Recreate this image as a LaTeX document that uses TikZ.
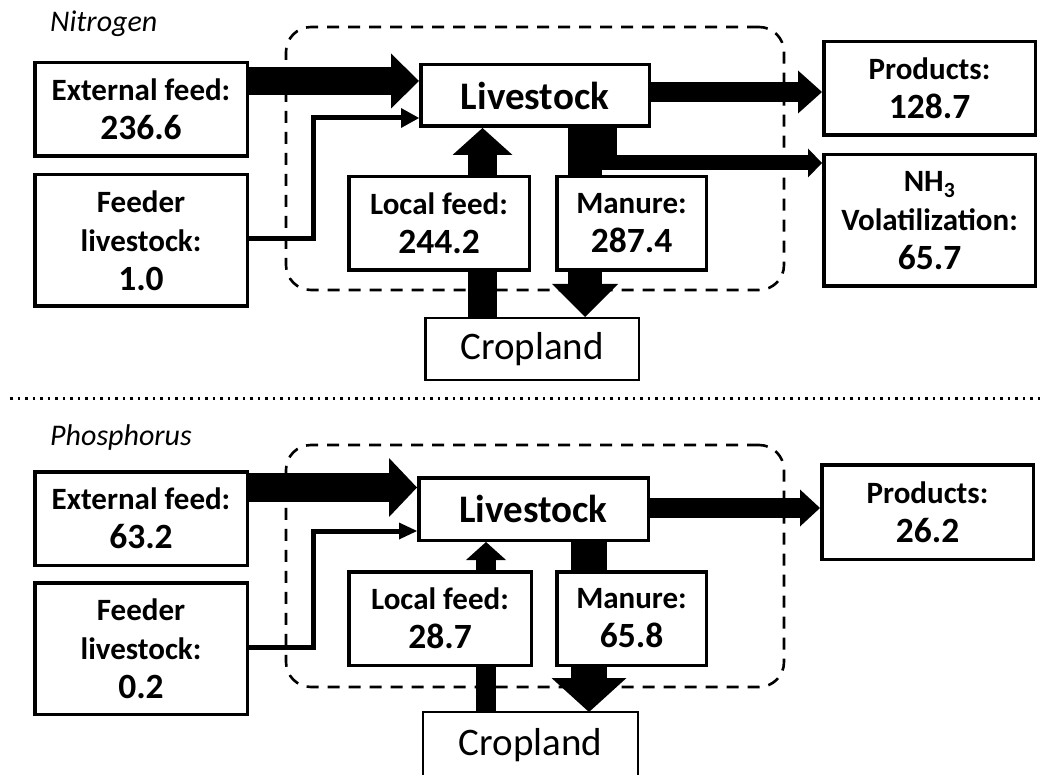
\documentclass[tikz,border=0pt]{standalone}
\usepackage{fontspec}
\setmainfont{Carlito}
\usetikzlibrary{arrows.meta}
\pgfdeclarelayer{bg}
\pgfsetlayers{bg,main}
\newcommand\numf{\fontsize{35.5}{39}\selectfont}
\tikzset{
  box/.style={draw, line width=3.5pt, fill=white, inner sep=0pt, align=center,
    font=\bfseries\fontsize{31}{39}\selectfont},
  livebox/.style={box, font=\bfseries\fontsize{39}{40}\selectfont},
  cropbox/.style={draw, line width=2.5pt, fill=white, inner sep=0pt,
    font=\fontsize{39}{40}\selectfont},
  region/.style={draw, line width=2.6pt, dash pattern=on 12pt off 9pt,
    rounded corners=25pt, inner sep=0pt},
  title/.style={font=\itshape\fontsize{30}{36}\selectfont, anchor=base west, inner sep=0pt},
  flow/.style n args={3}{line width=#1, line join=miter,
    -{Triangle[width=#2,length=#3,line width=0pt]}},
  sep/.style={line width=3pt, dash pattern=on 2.5pt off 5pt}
}
\begin{document}
\begin{tikzpicture}[x=1pt,y=-1pt]
\useasboundingbox (0,0) rectangle (1046,775);

% ---------------- Nitrogen ----------------
\node[title] (tN) at (50,32) {Nitrogen};
\node[region, minimum width=498pt, minimum height=263pt] (sysN) at (535,158.5) {};
\node[box, minimum width=212.5pt, minimum height=93.5pt] (extN) at (141,109.5)
  {External feed:\\\numf 236.6};
\node[box, minimum width=212.5pt, minimum height=131.5pt] (feedN) at (141,240.5)
  {Feeder\\livestock:\\\numf 1.0};
\node[livebox, minimum width=228.5pt, minimum height=61.5pt] (liveN) at (535,95.5) {Livestock};
\node[box, minimum width=180.5pt, minimum height=93.5pt] (localN) at (439,223.5)
  {Local feed:\\\numf 244.2};
\node[box, minimum width=149.5pt, minimum height=93.5pt] (manN) at (631.5,223.5)
  {Manure:\\\numf 287.4};
\node[cropbox, minimum width=213.5pt, minimum height=61.5pt] (cropN) at (532,349) {Cropland};
\node[box, minimum width=211.5pt, minimum height=93.5pt] (prodN) at (929.5,88.5)
  {Products:\\\numf 128.7};
\node[box, minimum width=211.5pt, minimum height=131.5pt] (nh3N) at (929.5,220.5)
  {NH\textsubscript{3}\\Volatilization:\\\numf 65.7};

\coordinate (eN) at (0,81);
\coordinate (fN1) at (313,239);
\coordinate (fN2) at (313,118);
\coordinate (lN) at (482.5,0);
\coordinate (mN) at (585,0);
\coordinate (hN) at (609,163);
\coordinate (pN) at (0,92);

\begin{pgfonlayer}{bg}
\draw[flow={28pt}{55pt}{28pt}] (extN.east |- eN) -- (liveN.west |- eN);
\draw[flow={5pt}{20pt}{18pt}] (feedN.east |- fN1) -- (fN1) -- (fN2) -- (liveN.west |- fN2);
\draw[flow={29pt}{60pt}{27pt}] (cropN.north -| lN) -- (liveN.south -| lN);
\draw[flow={34pt}{66pt}{33pt}] (liveN.south -| mN) -- (cropN.north -| mN);
\draw[flow={15pt}{29pt}{14pt}] (liveN.south -| hN) -- (hN) -- (nh3N.west |- hN);
\draw[flow={20pt}{43pt}{24pt}] (liveN.east |- pN) -- (prodN.west |- pN);
\end{pgfonlayer}

% ---------------- separator ----------------
\coordinate (sepL) at (10,398);
\coordinate (sepR) at (1040,398);
\draw[sep] (sepL) -- (sepR);

% ---------------- Phosphorus ----------------
\node[title] (tP) at (50,445) {Phosphorus};
\node[region, minimum width=498pt, minimum height=242pt] (sysP) at (535,566) {};
\node[box, minimum width=212.5pt, minimum height=93.5pt] (extP) at (141,518.5)
  {External feed:\\\numf 63.2};
\node[box, minimum width=212.5pt, minimum height=131.5pt] (feedP) at (141,648.5)
  {Feeder\\livestock:\\\numf 0.2};
\node[livebox, minimum width=229.5pt, minimum height=62.5pt] (liveP) at (533.5,509) {Livestock};
\node[box, minimum width=182.5pt, minimum height=93.5pt] (localP) at (440,618.5)
  {Local feed:\\\numf 28.7};
\node[box, minimum width=149.5pt, minimum height=93.5pt] (manP) at (631.5,618.5)
  {Manure:\\\numf 65.8};
\node[cropbox, draw=none, minimum width=212.5pt, minimum height=63.5pt] (cropP) at (530.5,745)
  {\raisebox{-3pt}{Cropland}};
\draw[line width=2.5pt] (cropP.south west) -- (cropP.north west) -- (cropP.north east) -- (cropP.south east);
\node[box, minimum width=211.5pt, minimum height=94.5pt] (prodP) at (927.5,512)
  {Products:\\\numf 26.2};

\coordinate (eP) at (0,487.5);
\coordinate (fP1) at (313,647);
\coordinate (fP2) at (313,531);
\coordinate (lP) at (486,0);
\coordinate (mP) at (589,0);
\coordinate (pP) at (0,508);

\begin{pgfonlayer}{bg}
\draw[flow={29pt}{59pt}{28pt}] (extP.east |- eP) -- (liveP.west |- eP);
\draw[flow={5pt}{17pt}{18pt}] (feedP.east |- fP1) -- (fP1) -- (fP2) -- (liveP.west |- fP2);
\draw[flow={20pt}{40pt}{18pt}] (cropP.north -| lP) -- (liveP.south -| lP);
\draw[flow={36pt}{75pt}{34pt}] (liveP.south -| mP) -- (cropP.north -| mP);
\draw[flow={20pt}{37pt}{20pt}] (liveP.east |- pP) -- (prodP.west |- pP);
\end{pgfonlayer}
\end{tikzpicture}
\end{document}
